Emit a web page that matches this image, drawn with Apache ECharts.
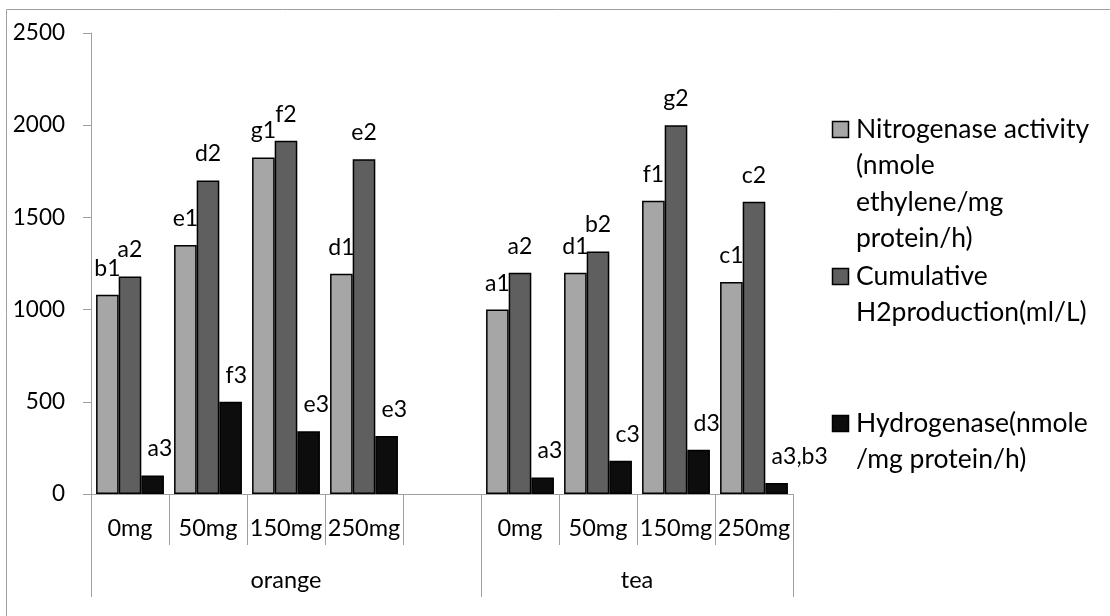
<!DOCTYPE html>
<html>
<head>
<meta charset="utf-8">
<script src="https://cdn.jsdelivr.net/npm/echarts@6/dist/echarts.min.js"></script>
<style>
  html, body { margin: 0; padding: 0; background: #ffffff; }
  #chart { width: 1110px; height: 616px; }
</style>
</head>
<body>
<div id="chart"></div>
<script>
// Treatment doses, with one blank slot separating the two substrates
const categories = ['0mg', '50mg', '150mg', '250mg', '', '0mg', '50mg', '150mg', '250mg'];
// Substrate groups and how many dose slots each spans
const groupNames = ['orange', 'tea'];
const groupSpans = [5, 4];

const seriesNames = [
  'Nitrogenase activity\n(nmole\nethylene/mg\nprotein/h)',
  'Cumulative\nH2production(ml/L)',
  'Hydrogenase(nmole\n/mg protein/h)'
];

const nitrogenase  = [1080, 1350, 1825, 1195, null, 1000, 1200, 1590, 1150];
const cumulativeH2 = [1180, 1700, 1915, 1815, null, 1200, 1315, 2000, 1585];
const hydrogenase  = [100, 500, 340, 315, null, 90, 180, 240, 60];

// Significance letters shown above each bar
const nitrogenaseLetters = ['b1', 'e1', 'g1', 'd1', '', 'a1', 'd1', 'f1', 'c1'];
const cumulativeLetters  = ['a2', 'd2', 'f2', 'e2', '', 'a2', 'b2', 'g2', 'c2'];
const hydrogenaseLetters = ['a3', 'f3', 'e3', 'e3', '', 'a3', 'c3', 'd3', 'a3,b3'];

const yMin = 0, yMax = 2500, yStep = 500;

const FONT = 'Lato';
const AXIS_GREY = '#a0a0a0';
const COLORS = ['#a6a6a6', '#5f5f5f', '#0d0d0d'];

// Group boundaries and label centres on a 0..N scale of dose slots
const groupEdges = [0];
groupSpans.forEach(s => groupEdges.push(groupEdges[groupEdges.length - 1] + s));
const groupCentres = groupSpans.map((s, i) => groupEdges[i] + s / 2);

function barSeries(idx, values, letters, labelExtra) {
  return {
    name: seriesNames[idx],
    type: 'bar',
    xAxisIndex: 0,
    data: values,
    barGap: '0%',
    barCategoryGap: '13%',
    itemStyle: { color: COLORS[idx], borderColor: '#000', borderWidth: 1.5 },
    label: Object.assign({
      show: true,
      position: 'top',
      distance: 15,
      fontFamily: FONT,
      fontSize: 23,
      color: '#000',
      formatter: p => letters[p.dataIndex]
    }, labelExtra || {}),
    emphasis: { disabled: true },
    animation: false
  };
}

// Legend drawn as swatch + wrapped text blocks
const legendLeft = 832, legendTop = 121, legendStep = 147, lineH = 36.5;
const legendGraphics = [];
seriesNames.forEach((name, i) => {
  const top = legendTop + i * legendStep;
  legendGraphics.push({
    type: 'rect',
    shape: { x: legendLeft + 0.5, y: top + 0.5, width: 16, height: 16 },
    style: { fill: COLORS[i], stroke: '#000', lineWidth: 1.5 }
  });
  legendGraphics.push({
    type: 'text',
    style: {
      x: 856, y: top + 8 - lineH / 2,
      text: name,
      font: '26.5px ' + FONT,
      lineHeight: lineH,
      fill: '#000',
      textAlign: 'left',
      verticalAlign: 'top'
    }
  });
});

const chart = echarts.init(document.getElementById('chart'), null, { renderer: 'canvas' });
chart.setOption({
  backgroundColor: '#ffffff',
  animation: false,
  textStyle: { fontFamily: FONT },
  grid: { left: 91, right: 317, top: 33, bottom: 122, containLabel: false },
  xAxis: [
    {
      type: 'category',
      data: categories,
      position: 'bottom',
      axisLine: { show: true, lineStyle: { color: AXIS_GREY, width: 1 } },
      axisTick: { show: true, interval: 0, length: 51, lineStyle: { color: AXIS_GREY } },
      axisLabel: { interval: 0, margin: 22, fontFamily: FONT, fontSize: 23.5, color: '#000' },
      splitLine: { show: false }
    },
    {
      type: 'value',
      position: 'bottom',
      min: 0,
      max: groupEdges[groupEdges.length - 1],
      axisLine: { show: false },
      axisTick: { show: true, customValues: groupEdges, length: 103, lineStyle: { color: AXIS_GREY } },
      axisLabel: {
        customValues: groupCentres,
        margin: 74,
        fontFamily: FONT,
        fontSize: 23.5,
        color: '#000',
        formatter: v => {
          const i = groupCentres.indexOf(v);
          return i >= 0 ? groupNames[i] : '';
        }
      },
      splitLine: { show: false }
    }
  ],
  yAxis: {
    type: 'value',
    min: yMin,
    max: yMax,
    interval: yStep,
    axisLine: { show: true, lineStyle: { color: AXIS_GREY, width: 1 } },
    axisTick: { show: true, length: 8, lineStyle: { color: AXIS_GREY } },
    axisLabel: { margin: 26, fontFamily: FONT, fontSize: 22.5, color: '#000', formatter: v => String(v) },
    splitLine: { show: false }
  },
  series: [
    barSeries(0, nitrogenase, nitrogenaseLetters),
    barSeries(1, cumulativeH2, cumulativeLetters),
    barSeries(2, hydrogenase, hydrogenaseLetters, { align: 'left', offset: [-5, 0] })
  ],
  graphic: [
    {
      type: 'rect',
      silent: true,
      shape: { x: 6.5, y: 9.5, width: 1200, height: 700 },
      style: { fill: 'none', stroke: '#a0a0a0', lineWidth: 1 }
    }
  ].concat(legendGraphics)
});
</script>
</body>
</html>
